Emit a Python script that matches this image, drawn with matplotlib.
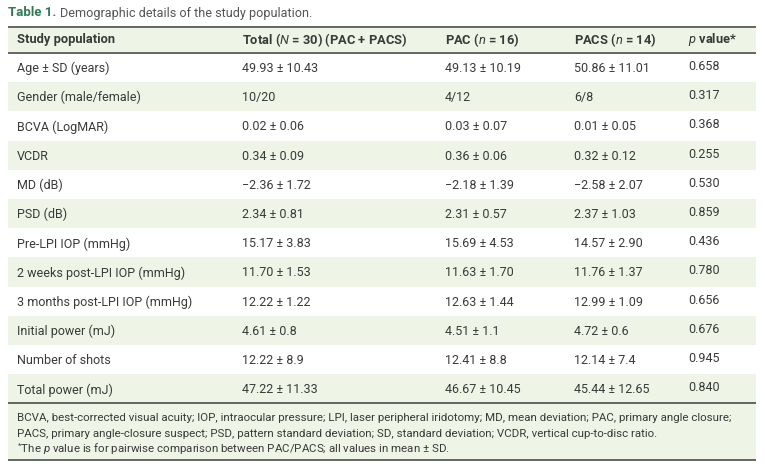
import matplotlib
matplotlib.use("Agg")
import matplotlib.pyplot as plt
from matplotlib.patches import Rectangle

plt.rcParams["font.family"] = ["Roboto", "DejaVu Sans"]
plt.rcParams["mathtext.fontset"] = "custom"
plt.rcParams["mathtext.rm"] = "Roboto"
plt.rcParams["mathtext.it"] = "Roboto:italic"
plt.rcParams["mathtext.bf"] = "Roboto:bold"

headers = ["Study population", r"Total ($\mathit{N}$ = 30) (PAC + PACS)",
           r"PAC ($\mathit{n}$ = 16)", r"PACS ($\mathit{n}$ = 14)", r"$\mathit{p}$ value*"]
row_labels = ["Age ± SD (years)", "Gender (male/female)", "BCVA (LogMAR)", "VCDR",
              "MD (dB)", "PSD (dB)", "Pre-LPI IOP (mmHg)", "2 weeks post-LPI IOP (mmHg)",
              "3 months post-LPI IOP (mmHg)", "Initial power (mJ)", "Number of shots",
              "Total power (mJ)"]
total_vals = ["49.93 ± 10.43", "10/20", "0.02 ± 0.06", "0.34 ± 0.09", "−2.36 ± 1.72",
              "2.34 ± 0.81", "15.17 ± 3.83", "11.70 ± 1.53", "12.22 ± 1.22", "4.61 ± 0.8",
              "12.22 ± 8.9", "47.22 ± 11.33"]
pac_vals = ["49.13 ± 10.19", "4/12", "0.03 ± 0.07", "0.36 ± 0.06", "−2.18 ± 1.39",
            "2.31 ± 0.57", "15.69 ± 4.53", "11.63 ± 1.70", "12.63 ± 1.44", "4.51 ± 1.1",
            "12.41 ± 8.8", "46.67 ± 10.45"]
pacs_vals = ["50.86 ± 11.01", "6/8", "0.01 ± 0.05", "0.32 ± 0.12", "−2.58 ± 2.07",
             "2.37 ± 1.03", "14.57 ± 2.90", "11.76 ± 1.37", "12.99 ± 1.09", "4.72 ± 0.6",
             "12.14 ± 7.4", "45.44 ± 12.65"]
p_vals = ["0.658", "0.317", "0.368", "0.255", "0.530", "0.859", "0.436", "0.780",
          "0.656", "0.676", "0.945", "0.840"]
footnote = [
    "BCVA, best-corrected visual acuity; IOP, intraocular pressure; LPI, laser peripheral iridotomy; "
    "MD, mean deviation; PAC, primary angle closure;",
    "PACS, primary angle-closure suspect; PSD, pattern standard deviation; SD, standard deviation; "
    "VCDR, vertical cup-to-disc ratio.",
    r"$^{*}$The $\mathit{p}$ value is for pairwise comparison between PAC/PACS; all values in mean ± SD.",
]

W, H = 765, 469
GREEN = "#eef4e6"
TEXT = "#3a3a3a"
LINE = "#5a5a5a"
col_x = [17, 242, 445, 574, 688]
left, right = 8, 756
head_top, head_bot = 27, 53
row_h = 29.2
foot_bot = 460

fig = plt.figure(figsize=(W / 100, H / 100), dpi=100)
ax = fig.add_axes([0, 0, 1, 1])
ax.set_xlim(0, W)
ax.set_ylim(H, 0)
ax.axis("off")

# title
ax.text(8, 13, "Table 1.", color="#2f7a55", fontsize=9.5, fontweight="bold", va="center")
ax.text(60, 13, "Demographic details of the study population.", color="#555555",
        fontsize=9.1, va="center")

# header band
ax.add_patch(Rectangle((left, head_top), right - left, head_bot - head_top, color=GREEN, lw=0))
for x, h in zip(col_x, headers):
    ax.text(x, (head_top + head_bot) / 2, h, fontsize=9.3, fontweight="bold", color=TEXT, va="center")

# body rows
for i, label in enumerate(row_labels):
    y0 = head_bot + i * row_h
    if i % 2 == 1:
        ax.add_patch(Rectangle((left, y0), right - left, row_h, color=GREEN, lw=0))
    yc = y0 + row_h / 2
    cells = [label, total_vals[i], pac_vals[i], pacs_vals[i], p_vals[i]]
    for j, (x, c) in enumerate(zip(col_x, cells)):
        dy = -1 if j == 4 else 1
        ax.text(x, yc + dy, c, fontsize=9, color=TEXT, va="center")

body_bot = head_bot + len(row_labels) * row_h

# footnote band
ax.add_patch(Rectangle((left, body_bot), right - left, foot_bot - body_bot, color=GREEN, lw=0))
for k, line in enumerate(footnote):
    ax.text(17, body_bot + 15 + k * 15.5, line, fontsize=8.25, color=TEXT, va="center")

for y in [head_top, head_bot, body_bot, foot_bot]:
    ax.plot([left, right], [y, y], color=LINE, lw=1.3, solid_capstyle="butt")

fig.savefig("out.png", dpi=100)
